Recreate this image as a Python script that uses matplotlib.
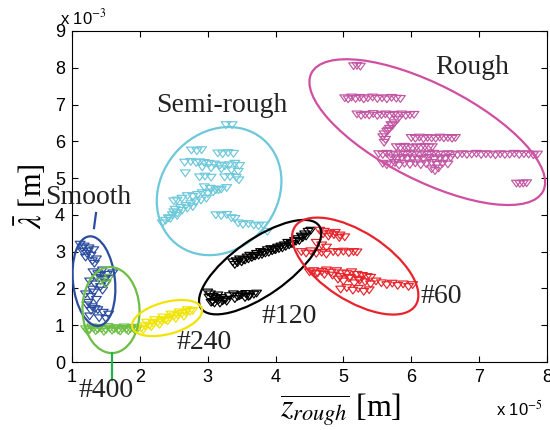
import numpy as np
import matplotlib
matplotlib.use('Agg')
import matplotlib.pyplot as plt
from matplotlib.path import Path
from matplotlib.patches import Ellipse
from matplotlib import transforms

plt.rcParams['mathtext.fontset'] = 'stix'

# x in units of 1e-5 m, y in units of 1e-3 m
rough_x = [5.15, 5.2, 5.25,
           5.02, 5.07, 5.12, 5.18, 5.24, 5.3, 5.36, 5.43, 5.5, 5.57, 5.64, 5.71, 5.78, 5.84,
           5.2, 5.26, 5.32, 5.38, 5.44, 5.5, 5.56, 5.62, 5.68, 5.74, 5.8, 5.86, 5.92, 5.98, 6.04,
           5.8, 5.75, 5.72, 5.68, 5.64, 5.6, 5.58, 5.62, 5.6, 5.66, 5.7,
           6.0, 6.06, 6.12, 6.18, 6.24, 6.3, 6.36, 6.42, 6.48, 6.54, 6.6, 6.65,
           5.78, 5.84, 5.9, 5.96, 6.02, 6.08, 6.14, 6.2, 6.26, 6.31,
           5.52, 5.58, 5.64, 5.7, 5.77, 5.84, 5.91, 5.98, 6.05, 6.12, 6.19, 6.26, 6.33, 6.4,
           6.47, 6.54, 6.61, 6.68, 6.75, 6.82, 6.89, 6.96, 7.03, 7.1, 7.17, 7.24, 7.31, 7.38,
           7.45, 7.52, 7.59, 7.66, 7.73, 7.8, 7.86,
           5.7, 5.78, 5.86, 5.94, 6.02, 6.1, 6.18, 6.26, 6.34, 6.42, 6.5, 6.58,
           5.58, 5.64, 5.7, 5.76, 5.82, 5.9, 5.98, 6.06, 6.14, 6.22, 6.3, 6.38, 6.46, 6.54,
           6.3, 6.35, 6.4,
           7.55, 7.6, 7.65, 7.7]
rough_y = [8.05, 8.06, 8.04,
           7.18, 7.15, 7.2, 7.16, 7.19, 7.15, 7.18, 7.2, 7.16, 7.18, 7.15, 7.19, 7.17, 7.16,
           6.74, 6.7, 6.73, 6.71, 6.75, 6.7, 6.72, 6.74, 6.7, 6.73, 6.71, 6.74, 6.7, 6.72, 6.73,
           6.6, 6.5, 6.42, 6.35, 6.27, 6.2, 6.12, 6.05, 5.97, 6.3, 6.45,
           6.1, 6.08, 6.11, 6.07, 6.1, 6.09, 6.08, 6.11, 6.09, 6.1, 6.08, 6.1,
           5.85, 5.83, 5.86, 5.84, 5.82, 5.85, 5.83, 5.86, 5.84, 5.85,
           5.66, 5.64, 5.67, 5.65, 5.63, 5.66, 5.64, 5.67, 5.65, 5.63, 5.66, 5.64, 5.67, 5.65,
           5.64, 5.66, 5.65, 5.63, 5.66, 5.64, 5.65, 5.67, 5.64, 5.66, 5.65, 5.63, 5.66, 5.64,
           5.65, 5.67, 5.64, 5.66, 5.65, 5.63, 5.65,
           5.55, 5.52, 5.56, 5.53, 5.55, 5.51, 5.54, 5.56, 5.52, 5.55, 5.53, 5.56,
           5.4, 5.36, 5.38, 5.42, 5.35, 5.4, 5.37, 5.41, 5.36, 5.39, 5.42, 5.37, 5.4, 5.38,
           5.25, 5.2, 5.27,
           4.86, 4.85, 4.86, 4.87]

semi_x = [3.27, 3.36,
          2.76, 2.84, 2.91,
          3.15, 3.22, 3.3, 3.38,
          2.66, 2.75, 2.83,
          2.88, 2.95, 3.02, 3.1, 3.18, 3.25, 3.32, 3.4, 3.47, 2.92, 3.05, 3.2, 3.35, 3.45,
          2.67,
          2.88, 2.96, 3.05,
          3.25, 3.33, 3.42, 3.46,
          2.95, 3.04, 3.12, 3.2, 3.28,
          3.16, 3.08, 3.0, 2.92, 2.85, 2.78, 2.7, 2.62, 2.55, 2.5,
          2.98, 2.9, 2.82, 2.75, 2.68, 2.6, 2.52,
          2.78, 2.7, 2.62, 2.55, 2.48, 2.42, 2.38, 2.33, 2.45, 2.55, 2.5,
          3.12, 3.2, 3.28, 3.35, 3.4,
          3.45, 3.52, 3.6, 3.68, 3.75, 3.82, 3.88]
semi_y = [6.45, 6.45,
          5.76, 5.74, 5.77,
          5.68, 5.66, 5.69, 5.67,
          5.43, 5.45, 5.42,
          5.44, 5.42, 5.4, 5.38, 5.35, 5.33, 5.36, 5.4, 5.34, 5.3, 5.28, 5.25, 5.22, 5.18,
          5.14,
          5.03, 5.05, 5.02,
          5.03, 5.04, 5.02, 4.95,
          4.76, 4.72, 4.68, 4.7, 4.74,
          4.68, 4.62, 4.58, 4.6, 4.55, 4.5, 4.52, 4.45, 4.4, 4.38,
          4.45, 4.4, 4.35, 4.3, 4.25, 4.2, 4.15,
          4.22, 4.18, 4.12, 4.05, 4.0, 3.92, 3.85, 3.78, 3.9, 3.98, 4.08,
          4.0, 3.98, 4.01, 3.92, 3.9,
          3.78, 3.74, 3.76, 3.72, 3.7, 3.72, 3.55]

k120_x = [3.37, 3.42, 3.47, 3.52, 3.58, 3.62, 3.68, 3.72, 3.78, 3.82, 3.88, 3.93, 3.98, 4.03,
          4.08, 4.13, 4.18, 4.23, 4.28, 4.33, 4.38, 4.43, 4.48, 4.52,
          3.4, 3.5, 3.6, 3.7, 3.8, 3.9, 4.0, 4.1, 4.2, 4.3, 4.4,
          3.44, 3.55, 3.65, 3.75, 3.85, 3.95, 4.05, 4.15, 4.25, 4.35, 4.45,
          3.0, 3.04, 3.08, 3.12, 3.16, 3.2, 3.24, 3.28, 3.05, 3.1, 3.15, 3.22,
          3.02, 3.07, 3.13, 3.18, 3.26,
          3.32, 3.38, 3.44, 3.5, 3.56, 3.62, 3.68, 3.72, 3.4, 3.55, 3.47, 3.6]
k120_y = [2.72, 2.75, 2.8, 2.78, 2.85, 2.9, 2.88, 2.95, 3.0, 2.98, 3.05, 3.08, 3.06, 3.12,
          3.15, 3.18, 3.25, 3.22, 3.3, 3.35, 3.42, 3.48, 3.55, 3.58,
          2.65, 2.72, 2.8, 2.88, 2.92, 2.98, 3.05, 3.1, 3.18, 3.28, 3.38,
          2.7, 2.77, 2.84, 2.9, 2.96, 3.02, 3.08, 3.14, 3.22, 3.3, 3.42,
          1.9, 1.85, 1.78, 1.72, 1.68, 1.75, 1.7, 1.65, 1.62, 1.6, 1.82, 1.66,
          1.76, 1.64, 1.74, 1.6, 1.7,
          1.8, 1.85, 1.78, 1.83, 1.86, 1.8, 1.84, 1.87, 1.72, 1.75, 1.8, 1.78]

r60_x = [4.65, 4.72, 4.8, 4.88, 4.95, 5.02, 4.6, 4.68, 4.75,
         4.7, 4.78, 4.86, 4.94,
         4.38, 4.45, 4.52, 4.6, 4.68, 4.75,
         4.85, 4.92, 5.0, 5.08, 5.15, 5.2,
         4.5, 4.56, 4.62, 4.68, 4.75, 4.82, 4.9, 4.98, 5.05, 5.12, 5.2, 5.28, 5.35, 5.4,
         4.6, 4.72, 4.84, 4.95, 5.1, 5.22,
         4.92, 5.0, 5.08, 5.16, 5.24, 5.32, 5.4, 5.48, 5.56, 5.64, 5.72, 5.8, 5.88, 5.96, 6.02,
         4.96, 5.05, 5.14, 5.22, 5.3, 5.38]
r60_y = [3.58, 3.55, 3.5, 3.52, 3.45, 3.4, 3.25, 3.18, 3.12,
         3.48, 3.42, 3.46, 3.38,
         3.0, 2.96, 3.02, 2.95, 2.98, 2.93,
         3.0, 2.98, 3.01, 2.97, 3.0, 2.99,
         2.45, 2.48, 2.42, 2.46, 2.5, 2.44, 2.48, 2.42, 2.4, 2.45, 2.38, 2.35, 2.32, 2.3,
         2.4, 2.38, 2.36, 2.32, 2.3, 2.25,
         2.25, 2.2, 2.28, 2.15, 2.22, 2.18, 2.12, 2.2, 2.15, 2.1, 2.14, 2.08, 2.12, 2.05, 2.1,
         1.98, 2.02, 1.95, 2.0, 1.92, 1.96]

smooth_x = [1.12, 1.18, 1.25, 1.32, 1.16, 1.22, 1.28, 1.36, 1.2, 1.3,
            1.31, 1.38, 1.45, 1.52, 1.6, 1.36, 1.5,
            1.26, 1.34, 1.42, 1.5, 1.3, 1.45,
            1.2, 1.28, 1.36, 1.24,
            1.22, 1.3, 1.38, 1.46, 1.54, 1.26, 1.4, 1.5, 1.34,
            1.15, 1.24, 1.33, 1.42, 1.48, 1.32, 1.28]
smooth_y = [3.2, 3.15, 3.1, 3.05, 3.0, 2.95, 2.9, 2.8, 2.85, 2.75,
            2.45, 2.4, 2.5, 2.38, 2.42, 2.3, 2.28,
            2.2, 2.12, 2.05, 2.15, 1.98, 1.95,
            1.85, 1.78, 1.7, 1.62,
            1.55, 1.5, 1.42, 1.35, 1.3, 1.25, 1.2, 1.18, 1.45,
            3.1, 3.02, 2.68, 2.35, 2.25, 1.9, 1.4]

s400_x = [1.2, 1.26, 1.32, 1.38, 1.44, 1.5, 1.56, 1.62, 1.68, 1.74, 1.8, 1.86, 1.92, 1.96,
          1.23, 1.35, 1.47, 1.59, 1.71, 1.83,
          1.29, 1.41, 1.53, 1.65, 1.77, 1.89,
          1.42, 1.5, 1.55]
s400_y = [0.9, 0.88, 0.92, 0.89, 0.91, 0.88, 0.92, 0.9, 0.87, 0.91, 0.89, 0.9, 0.88, 0.9,
          0.84, 0.85, 0.83, 0.86, 0.84, 0.85,
          0.95, 0.94, 0.96, 0.93, 0.95, 0.94,
          2.2, 2.12, 2.3]

s240_x = [2.02, 2.08, 2.14, 2.2, 2.26, 2.32, 2.38, 2.44, 2.5, 2.56, 2.62, 2.68, 2.74, 2.78,
          2.1, 2.22, 2.34, 2.46, 2.58, 2.7,
          2.05, 2.17, 2.29, 2.41, 2.53, 2.65]
s240_y = [0.92, 0.98, 1.0, 1.05, 1.08, 1.12, 1.15, 1.2, 1.25, 1.28, 1.32, 1.35, 1.38, 1.4,
          1.08, 1.15, 1.22, 1.3, 1.36, 1.42,
          0.88, 0.96, 1.02, 1.12, 1.18, 1.24]

groups = [
    (rough_x, rough_y, '#C255A3'),
    (semi_x, semi_y, '#6CC8DA'),
    (k120_x, k120_y, 'black'),
    (r60_x, r60_y, '#E8232B'),
    (smooth_x, smooth_y, '#2B4C9F'),
    (s400_x, s400_y, '#6CBE45'),
    (s240_x, s240_y, '#F0E400'),
]

# ellipses: centre (data), semi-axes (px), angle (deg), colour
ellipses = [
    (6.236, 6.25, 130, 48, -27, '#D04FA0'),
    (3.168, 4.647, 68, 58, 50, '#6CC8DA'),
    (3.773, 2.58, 72, 28, 35, 'black'),
    (5.174, 2.609, 72, 34, -33, '#E8232B'),
    (1.324, 2.2, 45, 21, 96, '#2B4C9F'),
    (1.575, 1.413, 43, 28.5, 92, '#6CBE45'),
    (2.401, 1.196, 36, 16, 15, '#F0E400'),
]

labels = [
    ('Rough', 6.9, 8.02),
    ('Semi-rough', 3.21, 6.98),
    ('Smooth', 1.236, 4.46),
    ('#400', 1.5, -0.76),
    ('#240', 2.95, 0.52),
    ('#120', 4.2, 1.25),
    ('#60', 6.44, 1.77),
]

tri = Path([(-1, 0.62), (1, 0.62), (0, -0.75), (-1, 0.62)],
           [Path.MOVETO, Path.LINETO, Path.LINETO, Path.CLOSEPOLY])

dpi = 100
fig = plt.figure(figsize=(5.5, 4.3), dpi=dpi)
ax = fig.add_axes([0.1309, 0.158, 0.8636, 0.77])

for gx, gy, c in groups:
    ax.scatter(gx, gy, s=50, marker=tri, facecolors='none', edgecolors=c,
               linewidths=0.85, zorder=3)

for cx, cy, a, b, ang, c in ellipses:
    tr = fig.dpi_scale_trans + transforms.ScaledTranslation(cx, cy, ax.transData)
    e = Ellipse((0, 0), 2 * a / dpi, 2 * b / dpi, angle=ang, transform=tr,
                fill=False, edgecolor=c, linewidth=1.6, zorder=4)
    ax.add_patch(e)

ax.plot([1.354, 1.324], [4.05, 3.64], color='#2B4C9F', lw=1.6, zorder=4)
ax.plot([1.59, 1.59], [0.245, -0.5], color='#22B24C', lw=1.6, clip_on=False, zorder=4)

for t, x, y in labels:
    ax.text(x, y, t, fontsize=20, family='Liberation Serif', color='#222222',
            ha='center', va='center', zorder=5)

ax.set_xlim(1, 8)
ax.set_ylim(0, 9)
ax.set_xticks(range(1, 9))
ax.set_yticks(range(0, 10))
ax.tick_params(direction='in', length=4, top=True, right=True, labelsize=13, pad=5)
for lab in ax.get_xticklabels() + ax.get_yticklabels():
    lab.set_family('Liberation Sans')

ax.text(-0.025, 1.012, r'x 10$^{-3}$', transform=ax.transAxes, fontsize=12,
        family='Liberation Sans', ha='left', va='bottom')
ax.text(0.893, -0.11, r'x 10$^{-5}$', transform=ax.transAxes, fontsize=12,
        family='Liberation Sans', ha='left', va='top')

ax.set_xlabel(r'$\overline{z_{rough}}$ [m]', fontsize=23, family='Liberation Serif', labelpad=0)
ax.xaxis.set_label_coords(0.565, -0.09)
ax.xaxis.label.set_va('top')
ax.set_ylabel(r'$\bar{\lambda}$ [m]', fontsize=22, family='Liberation Serif', labelpad=4)

fig.savefig('out.png', dpi=dpi)
